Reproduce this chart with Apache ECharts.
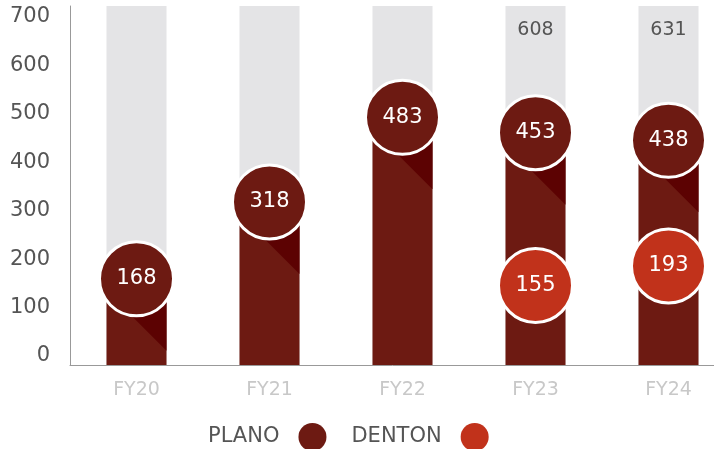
<!DOCTYPE html>
<html>
<head>
<meta charset="utf-8">
<script src="https://cdn.jsdelivr.net/npm/echarts@6/dist/echarts.min.js"></script>
<style>
  html, body { margin: 0; padding: 0; background: #fff; }
  #main { width: 714px; height: 449px; }
</style>
</head>
<body>
<div id="main"></div>
<script>
// data
const categories = ['FY20', 'FY21', 'FY22', 'FY23', 'FY24'];
const planoValues = [168, 318, 483, 453, 438];
const dentonValues = [null, null, null, 155, 193];
const totalLabels = [null, null, null, 608, 631];
const yTicks = [0, 100, 200, 300, 400, 500, 600, 700];
const yMax = 700;

// colours
const planoColor = '#6d1a12';
const shadowColor = '#5c0202';
const dentonColor = '#c1321b';
const trackColor = '#e4e4e6';
const BAR_W = 60;
const FONT = '"DejaVu Sans", sans-serif';

const chart = echarts.init(document.getElementById('main'));

const circleLabel = {
  show: true,
  position: 'inside',
  color: '#fff',
  fontSize: 21,
  fontFamily: FONT,
  formatter: p => p.value
};

const option = {
  animation: false,
  // plot runs off the right edge in the original
  grid: { top: 6, bottom: 84, left: 70, width: 665, outerBoundsMode: 'none' },
  legend: {
    data: ['PLANO', 'DENTON'],
    left: 203,
    top: 418,
    align: 'right',
    icon: 'circle',
    itemWidth: 28,
    itemHeight: 28,
    itemGap: 25,
    itemStyle: { borderWidth: 0 },
    textStyle: { fontSize: 21, color: '#555', fontFamily: FONT, padding: [0, 14, 0, 0] }
  },
  xAxis: {
    type: 'category',
    data: categories,
    axisLine: { lineStyle: { color: '#999', width: 1 } },
    axisTick: { show: false },
    axisLabel: { color: '#c8c8c8', fontSize: 19, fontFamily: FONT, margin: 16 }
  },
  yAxis: [
    {
      type: 'value',
      min: 0,
      max: yMax,
      interval: 100,
      axisLine: { show: true, lineStyle: { color: '#999', width: 1 } },
      axisTick: { show: false },
      axisLabel: { show: false },
      splitLine: { show: false }
    },
    {
      // label-only axis, ticks sit a little inside the plot like the original
      type: 'value',
      min: -18.6,
      max: 722.7,
      position: 'left',
      axisLine: { show: false },
      axisTick: { show: false },
      splitLine: { show: false },
      axisLabel: {
        customValues: yTicks,
        color: '#555',
        fontSize: 21,
        fontFamily: FONT,
        margin: 20
      }
    }
  ],
  series: [
    {
      type: 'bar',
      silent: true,
      barWidth: BAR_W,
      z: 1,
      data: categories.map(() => yMax),
      itemStyle: { color: trackColor },
      label: {
        show: true,
        position: 'insideTop',
        distance: 15,
        color: '#555',
        fontSize: 19,
        fontFamily: FONT,
        formatter: p => totalLabels[p.dataIndex] == null ? '' : totalLabels[p.dataIndex]
      }
    },
    {
      name: 'PLANO',
      type: 'bar',
      barWidth: BAR_W,
      barGap: '-100%',
      z: 2,
      data: planoValues,
      itemStyle: { color: planoColor }
    },
    {
      // diagonal shadow under each circle
      type: 'custom',
      z: 3,
      silent: true,
      data: planoValues.map((v, i) => [i, v]),
      encode: { x: 0, y: 1 },
      renderItem: (params, api) => {
        const pt = api.coord([api.value(0), api.value(1)]);
        const base = api.coord([api.value(0), 0])[1];
        const x0 = pt[0] - BAR_W / 2;
        const x1 = pt[0] + BAR_W / 2;
        const cy = pt[1];
        return {
          type: 'polygon',
          shape: {
            points: [
              [x0, cy], [x1, cy],
              [x1, Math.min(base, cy + 72)],
              [x0, Math.min(base, cy + 12)]
            ]
          },
          style: { fill: shadowColor }
        };
      }
    },
    {
      name: 'PLANO',
      type: 'scatter',
      z: 4,
      symbol: 'circle',
      symbolSize: 74,
      data: planoValues,
      itemStyle: { color: planoColor, borderColor: '#fff', borderWidth: 3, opacity: 1 },
      label: circleLabel
    },
    {
      name: 'DENTON',
      type: 'scatter',
      z: 5,
      symbol: 'circle',
      symbolSize: 74,
      data: dentonValues,
      itemStyle: { color: dentonColor, borderColor: '#fff', borderWidth: 3, opacity: 1 },
      label: circleLabel
    }
  ]
};

chart.setOption(option);
window.addEventListener('resize', () => chart.resize());
</script>
</body>
</html>
